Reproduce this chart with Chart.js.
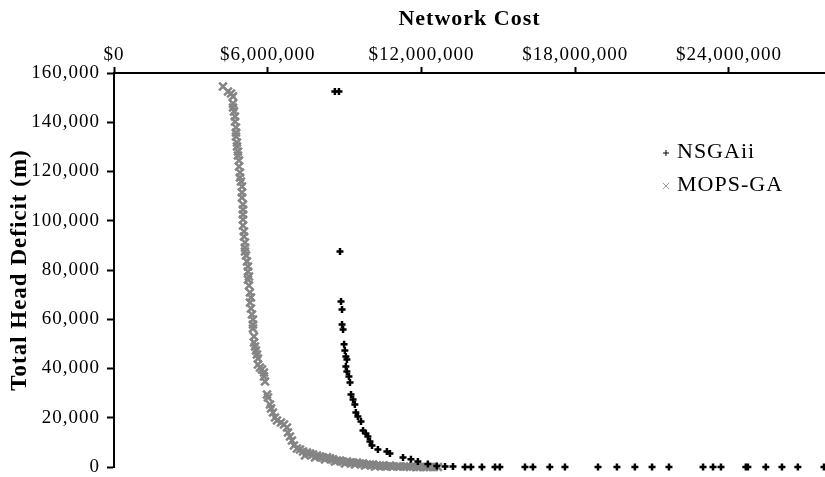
<!DOCTYPE html>
<html>
<head>
<meta charset="utf-8">
<script src="https://cdn.jsdelivr.net/npm/chart.js@4.4.1/dist/chart.umd.min.js"></script>
<style>
    html, body { margin: 0; padding: 0; background: #fff; }
    #wrap { width: 825px; height: 477px; position: relative; }
</style>
</head>
<body>
<div id="wrap"><canvas id="paretoChart"></canvas></div>
<script>
// Pareto fronts: network cost ($) vs. total head deficit (m)
const nsgaCost = [
    8620000, 8780000, 8820000, 8860000, 8900000, 8900000, 8940000, 8980000, 9010000, 9050000,
    9090000, 9050000, 9090000, 9170000, 9210000, 9250000, 9330000, 9400000, 9440000, 9520000,
    9640000, 9720000, 9830000, 9910000, 9990000, 10070000, 10300000, 10650000, 10770000, 11280000,
    11590000, 11860000, 12250000, 12600000, 12920000, 13230000, 13700000, 13930000, 14360000, 14870000,
    15060000, 16040000, 16350000, 17010000, 17600000, 18890000, 19630000, 20330000, 21000000, 21660000,
    22990000, 23380000, 23690000, 24660000, 24740000, 25440000, 26070000, 26690000, 27710000
];
const nsgaDeficit = [
    152500, 152500, 87500, 67200, 64000, 57900, 55800, 49800, 47300, 44900,
    43700, 40800, 38800, 36800, 34300, 29400, 27400, 25400, 22100, 20500,
    18500, 14800, 13600, 12400, 10400, 8700, 7100, 6300, 5500, 3900,
    3100, 2200, 1200, 400, 200, 200, 0, 0, 0, 0,
    0, 0, 0, 0, 0, 0, 0, 0, 0, 0,
    0, 0, 0, 0, 0, 0, 0, 0, 0
];

const mopsCost = [
    4254000, 4449000, 4566000, 4644000, 4644000, 4644000, 4683000, 4722000, 4722000, 4761000,
    4761000, 4761000, 4800000, 4800000, 4839000, 4839000, 4878000, 4878000, 4917000, 4917000,
    4956000, 4995000, 4995000, 4995000, 5034000, 5034000, 5034000, 5034000, 5034000, 5073000,
    5073000, 5112000, 5112000, 5112000, 5151000, 5190000, 5229000, 5229000, 5268000, 5229000,
    5268000, 5307000, 5346000, 5307000, 5346000, 5385000, 5424000, 5424000, 5424000, 5463000,
    5463000, 5502000, 5541000, 5580000, 5620000, 5620000, 5698000, 5776000, 5854000, 5854000,
    5893000, 5971000, 6010000, 6088000, 6127000, 6205000, 6283000, 6361000, 6517000, 6634000,
    6751000, 6790000, 6868000, 6946000, 7024000, 7141000, 7259000, 7376000, 7532000, 7649000,
    7766000, 7922000, 8039000, 8156000, 8312000, 8429000, 8546000, 8702000, 8820000, 8937000,
    9093000, 9210000, 9327000, 9483000, 9600000, 9717000, 9873000, 9990000, 10107000, 10263000,
    10380000, 10498000, 10654000, 10771000, 10888000, 11044000, 11161000, 11317000, 11434000, 11551000,
    11668000, 11824000, 11941000, 12098000, 12215000, 12332000, 12488000, 12644000,
    7454000, 7844000, 8234000, 8624000, 9015000, 9405000, 9795000, 10185000, 10576000
];
const mopsDeficit = [
    154500, 152500, 151700, 150500, 147600, 146000, 144400, 142300, 140300, 137900,
    135800, 134200, 131800, 130200, 128100, 126500, 124500, 122000, 119600, 117600,
    115900, 113900, 111500, 109400, 106600, 104600, 102500, 100500, 98100, 95600,
    93600, 91200, 89100, 87500, 85900, 83500, 81400, 79400, 77400, 76100,
    73700, 70900, 68800, 66800, 64400, 61900, 59900, 57900, 56200, 53000,
    50600, 48900, 47300, 45700, 44100, 41600, 40400, 39600, 38400, 36800,
    34700, 29400, 28200, 25400, 23800, 22100, 20100, 18900, 18100, 17300,
    16000, 14000, 12400, 10800, 8700, 7500, 7100, 6300, 5900, 5500,
    5100, 4700, 4300, 3900, 3900, 3500, 3100, 2600, 2600, 2200,
    2200, 1800, 1800, 1800, 1400, 1400, 1000, 1000, 1000, 600,
    600, 600, 200, 600, 200, 200, 200, 200, 200, 0,
    200, 0, 0, 0, 0, 0, 0, 0,
    4700, 3900, 3100, 2200, 1400, 1000, 600, 200, 200
];

const costTicks = [0, 6000000, 12000000, 18000000, 24000000];
const deficitTicks = [0, 20000, 40000, 60000, 80000, 100000, 120000, 140000, 160000];

const serif = "'Liberation Serif', 'Times New Roman', serif";
const greyMark = "#848484";

function toPoints(xs, ys) {
    return xs.map((x, i) => ({ x: x, y: ys[i] }));
}

// slightly wider text spacing for all labels
const spacedText = {
    id: "spacedText",
    beforeDraw(chart) {
        chart.ctx.letterSpacing = "1px";
    }
};

// legend drawn inside the plot, to the right of the curves
const innerLegend = {
    id: "innerLegend",
    afterDraw(chart) {
        const ctx = chart.ctx;
        const rows = [
            { y: 152, style: "cross", color: "#000", r: 3, text: chart.data.datasets[0].label },
            { y: 185, style: "crossRot", color: "#9a9a9a", r: 4.5, text: chart.data.datasets[1].label }
        ];
        ctx.save();
        rows.forEach(row => {
            ctx.strokeStyle = row.color;
            ctx.fillStyle = row.color;
            ctx.lineWidth = 1;
            Chart.helpers.drawPoint(ctx, { pointStyle: row.style, radius: row.r, borderWidth: 1 }, 666, row.y + 1);
            ctx.fillStyle = "#000";
            ctx.font = "22px " + serif;
            ctx.textBaseline = "middle";
            ctx.fillText(row.text, 677, row.y);
        });
        ctx.restore();
    }
};

const chartEl = document.getElementById("paretoChart").getContext("2d");

const paretoChart = new Chart(chartEl, {
    type: "scatter",
    data: {
        datasets: [{
            label: "NSGAii",
            data: toPoints(nsgaCost, nsgaDeficit),
            pointStyle: "cross",
            pointRadius: 3.5,
            pointBorderWidth: 2.5,
            borderColor: "#000",
            backgroundColor: "#000",
            clip: false,
            order: 1,
        }, {
            label: "MOPS-GA",
            data: toPoints(mopsCost, mopsDeficit),
            pointStyle: "crossRot",
            pointRadius: 5.5,
            pointBorderWidth: 2.5,
            borderColor: greyMark,
            backgroundColor: greyMark,
            clip: false,
            order: 2,
        }],
    },
    options: {
        responsive: true,
        maintainAspectRatio: false,
        animation: false,
        layout: { autoPadding: false, padding: { left: 0, right: 0, top: 0, bottom: 10 } },
        plugins: {
            legend: { display: false },
            tooltip: { enabled: false },
        },
        scales: {
            x: {
                type: "linear",
                position: "top",
                min: 0,
                max: 27750000,
                afterFit: s => {
                    s.height = 73;
                    s.paddingLeft = 0;
                    s.paddingRight = 0;
                },
                afterBuildTicks: s => { s.ticks = costTicks.map(v => ({ value: v })); },
                border: { display: true, color: "#000", width: 2 },
                grid: { drawOnChartArea: false, drawTicks: true, tickLength: 6, tickWidth: 2, tickColor: "#000" },
                ticks: {
                    color: "#000",
                    font: { family: serif, size: 19 },
                    padding: 1,
                    maxRotation: 0,
                    callback: v => "$" + v.toLocaleString("en-US"),
                },
                title: {
                    display: true,
                    text: "Network Cost",
                    color: "#000",
                    font: { family: serif, size: 22, weight: "bold" },
                    padding: { top: 6, bottom: 0 },
                },
            },
            y: {
                type: "linear",
                min: 0,
                max: 160000,
                afterFit: s => {
                    s.width = 114;
                    s.paddingTop = 0;
                    s.paddingBottom = 0;
                },
                afterBuildTicks: s => { s.ticks = deficitTicks.map(v => ({ value: v })); },
                border: { display: true, color: "#000", width: 2 },
                grid: { drawOnChartArea: false, drawTicks: true, tickLength: 7, tickWidth: 2, tickColor: "#000" },
                ticks: {
                    color: "#000",
                    font: { family: serif, size: 19, lineHeight: 1 },
                    padding: 7,
                    callback: v => v.toLocaleString("en-US"),
                },
                title: {
                    display: true,
                    text: "Total Head Deficit (m)",
                    color: "#000",
                    font: { family: serif, size: 23, weight: "bold" },
                    padding: { top: 6, bottom: 0 },
                },
            },
        },
    },
    plugins: [spacedText, innerLegend],
});
</script>
</body>
</html>
